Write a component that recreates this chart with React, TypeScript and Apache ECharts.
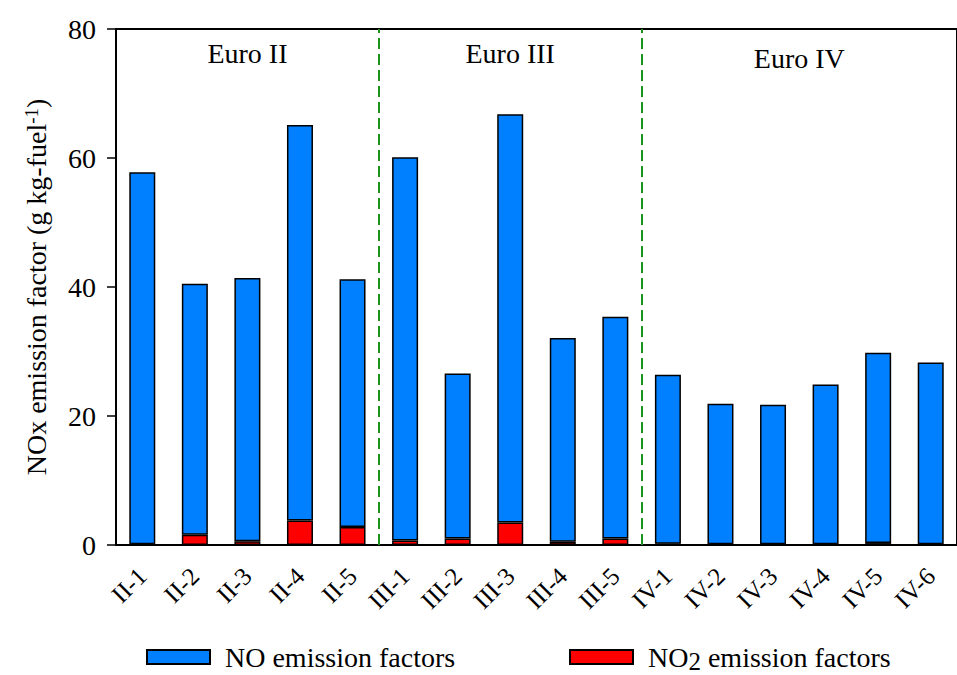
import React, { useEffect, useRef } from "react";
import * as echarts from "echarts";

const categories = ["II-1", "II-2", "II-3", "II-4", "II-5", "III-1", "III-2", "III-3", "III-4", "III-5", "IV-1", "IV-2", "IV-3", "IV-4", "IV-5", "IV-6"];
const no2Values = [0.1, 1.6, 0.6, 3.8, 2.8, 0.7, 1.0, 3.5, 0.5, 1.0, 0.2, 0.1, 0.1, 0.1, 0.3, 0.1];
const noValues = [57.7, 38.9, 40.8, 61.3, 38.4, 59.4, 25.6, 63.3, 31.6, 34.4, 26.2, 21.8, 21.65, 24.8, 29.5, 28.2];
const groupLabels = ["Euro II", "Euro III", "Euro IV"];
const groupBounds = [-0.5, 4.5, 9.5, 15.5];
const yMin = 0;
const yMax = 80;
const yInterval = 20;

const FONT = "'Liberation Serif', 'Times New Roman', serif";
const T = (size: number, extra: any = {}) => ({ fontSize: size, fontFamily: FONT, color: "#000", ...extra });

export default function App() {
  const ref = useRef<HTMLDivElement>(null);
  useEffect(() => {
    document.body.style.margin = "0";
    const chart = echarts.init(ref.current!, undefined, { renderer: "svg" });
    const markAreaData = groupLabels.map((g, i) => [
      {
        xAxis: groupBounds[i],
        name: g,
        label: i === 2 ? { offset: [0, 5] } : {},
      },
      { xAxis: groupBounds[i + 1] },
    ]);
    const dividerData = groupBounds.slice(1, -1).map((b) => ({ xAxis: b }));
    const legendCommon = {
      top: 638,
      itemWidth: 63,
      itemHeight: 14,
      icon: "rect",
      textStyle: {
        ...T(28),
        padding: [0, 0, 0, 10],
        rich: {
          n: T(28),
          sub: T(25, { padding: [9, 0, 0, 0] }),
        },
      },
    };
    const option: any = {
      animation: false,
      backgroundColor: "#fff",
      textStyle: { fontFamily: FONT },
      grid: {
        left: 116,
        right: -11,
        top: 29,
        bottom: 130,
        show: true,
        borderColor: "#000",
        borderWidth: 2,
        backgroundColor: "transparent",
      },
      legend: [
        {
          ...legendCommon,
          data: ["NO emission factors"],
          left: 141,
          formatter: () => "{n|NO emission factors}",
        },
        {
          ...legendCommon,
          data: ["NO2 emission factors"],
          left: 564,
          formatter: () => "{n|NO}{sub|2}{n| emission factors}",
        },
      ],
      xAxis: [
        {
          type: "category",
          data: categories,
          axisLine: { lineStyle: { color: "#000", width: 2 } },
          axisTick: { alignWithLabel: true, length: 7, lineStyle: { color: "#000", width: 1.5 } },
          axisLabel: { ...T(25), rotate: 45, margin: 27, interval: 0 },
        },
        { type: "value", min: -0.5, max: 15.5, show: false },
      ],
      yAxis: {
        type: "value",
        min: yMin,
        max: yMax,
        interval: yInterval,
        splitLine: { show: false },
        axisLine: { show: true, onZero: false, lineStyle: { color: "#000", width: 2 } },
        axisTick: { show: true, length: 9, lineStyle: { color: "#000", width: 1.5 } },
        axisLabel: { ...T(28), margin: 20 },
        name: "{n|NOx emission factor (g kg-fuel}{sup|-1}{n|)}",
        nameLocation: "middle",
        nameGap: 66,
        nameTextStyle: {
          ...T(28),
          rich: {
            n: T(28),
            sup: T(19, { verticalAlign: "top" }),
          },
        },
      },
      series: [
        {
          name: "NO2 emission factors",
          type: "bar",
          stack: "nox",
          barWidth: 26,
          data: no2Values,
          itemStyle: { color: "#ff0000", borderColor: "#000", borderWidth: 1.5 },
        },
        {
          name: "NO emission factors",
          type: "bar",
          stack: "nox",
          barWidth: 26,
          data: noValues,
          itemStyle: { color: "#0080ff", borderColor: "#000", borderWidth: 1.5 },
        },
        {
          name: "groups",
          type: "line",
          xAxisIndex: 1,
          data: [],
          silent: true,
          markLine: {
            silent: true,
            symbol: ["none", "none"],
            label: { show: false },
            lineStyle: { color: "#1a941a", type: [11, 5], width: 2 },
            data: dividerData,
          },
          markArea: {
            silent: true,
            itemStyle: { color: "transparent" },
            label: {
              show: true,
              position: "insideTop",
              distance: 10,
              ...T(28),
            },
            data: markAreaData,
          },
        },
      ],
    };
    chart.setOption(option);
    return () => chart.dispose();
  }, []);
  return <div ref={ref} style={{ width: 957, height: 675 }} />;
}
